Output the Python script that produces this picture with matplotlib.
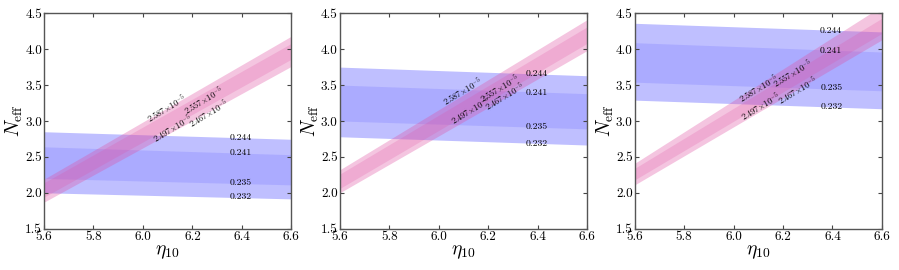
import matplotlib
matplotlib.use('Agg')
import matplotlib.pyplot as plt

plt.rcParams['font.family'] = 'serif'
plt.rcParams['font.serif'] = ['cmr10']
plt.rcParams['mathtext.fontset'] = 'cm'
plt.rcParams['axes.formatter.use_mathtext'] = True

eta = [5.6, 6.6]

# Y_p bands (blue): edges at the two ends of eta, per panel
yp_labels = ['0.244', '0.241', '0.235', '0.232']
yp_244 = [[2.85, 2.745], [3.75, 3.63], [4.36, 4.24]]
yp_241 = [[2.64, 2.53], [3.50, 3.38], [4.09, 3.96]]
yp_235 = [[2.20, 2.11], [3.00, 2.89], [3.54, 3.42]]
yp_232 = [[2.00, 1.915], [2.78, 2.665], [3.29, 3.17]]

# D/H bands (pink)
dh_labels = [r'$2.587\!\times\!10^{-5}$', r'$2.557\!\times\!10^{-5}$',
             r'$2.497\!\times\!10^{-5}$', r'$2.467\!\times\!10^{-5}$']
dh_outer_top = [[2.19, 4.18], [2.32, 4.41], [2.41, 4.60]]
dh_inner_top = [[2.14, 4.08], [2.26, 4.31], [2.34, 4.43]]
dh_inner_bot = [[1.94, 3.86], [2.06, 4.08], [2.18, 4.22]]
dh_outer_bot = [[1.87, 3.76], [2.00, 3.98], [2.11, 4.13]]

# label positions (eta, Neff)
yp_label_y = [[2.77, 2.55, 2.14, 1.945], [3.655, 3.395, 2.92, 2.68], [4.25, 3.98, 3.455, 3.20]]
dh_label_xy = [
    [(6.096, 3.18), (6.245, 3.29), (6.12, 2.90), (6.265, 3.11)],
    [(6.095, 3.41), (6.245, 3.455), (6.13, 3.15), (6.265, 3.34)],
    [(6.10, 3.455), (6.237, 3.66), (6.108, 3.20), (6.258, 3.43)],
]

fig = plt.figure(figsize=(8.99, 2.70), dpi=100)
lefts = [0.049, 0.378, 0.706]

for i in range(3):
    ax = fig.add_axes([lefts[i], 0.153, 0.275, 0.798])
    ax.fill_between(eta, yp_232[i], yp_244[i], color=(0, 0, 1), alpha=0.25, lw=0)
    ax.fill_between(eta, yp_235[i], yp_241[i], color=(0, 0, 1), alpha=0.10, lw=0)
    ax.fill_between(eta, dh_outer_bot[i], dh_outer_top[i], color=(0.88, 0.31, 0.63), alpha=0.33, lw=0)
    ax.fill_between(eta, dh_inner_bot[i], dh_inner_top[i], color=(0.88, 0.31, 0.63), alpha=0.22, lw=0)

    for lab, y in zip(yp_labels, yp_label_y[i]):
        ax.text(6.395, y, lab, fontsize=7, ha='center', va='center')
    for lab, (x, y) in zip(dh_labels, dh_label_xy[i]):
        ax.text(x, y, lab, fontsize=6, ha='center', va='center', rotation=31)

    ax.set_xlim(5.6, 6.6)
    ax.set_ylim(1.5, 4.5)
    ax.set_xticks([5.6, 5.8, 6.0, 6.2, 6.4, 6.6])
    ax.set_yticks([1.5, 2.0, 2.5, 3.0, 3.5, 4.0, 4.5])
    ax.set_xticklabels(['5.6', '5.8', '6.0', '6.2', '6.4', '6.6'])
    ax.set_yticklabels(['1.5', '2.0', '2.5', '3.0', '3.5', '4.0', '4.5'])
    ax.tick_params(direction='in', top=True, right=True, labelsize=9.5, length=3,
                   color='#444444', pad=1.5)
    for s in ax.spines.values():
        s.set_color('#555555')
        s.set_linewidth(1.0)
    ax.set_xlabel(r'$\eta_{10}$', fontsize=14, labelpad=0)
    ax.set_ylabel(r'$N_{\rm eff}$', fontsize=14, labelpad=0)

plt.savefig('out.png', dpi=100)
